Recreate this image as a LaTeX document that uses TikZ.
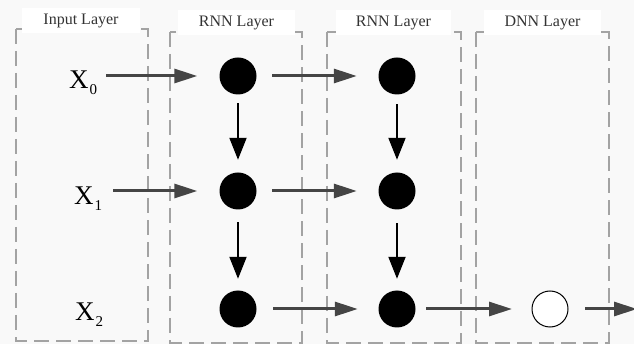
\documentclass[tikz,border=0pt]{standalone}
\usepackage{fontspec}
\setmainfont{Liberation Serif}
\usetikzlibrary{arrows.meta}
\definecolor{bgfill}{HTML}{F9F9F9}
\definecolor{dashgray}{HTML}{A3A3A3}
\definecolor{harrowgray}{HTML}{454545}
\definecolor{titlegray}{HTML}{333333}
% input symbol with a lowered index
\newcommand\inputsym[1]{X\kern1pt\raisebox{-6pt}{\fontsize{15}{15}\selectfont #1}}
\begin{document}
\begin{tikzpicture}[x=1pt,y=-1pt,
  layerbox/.style={draw=dashgray, line width=1.3pt, dash pattern=on 15pt off 7pt},
  titlebox/.style={fill=white, inner sep=0pt, minimum height=25pt,
    font=\fontsize{16}{18}\selectfont, text=titlegray},
  unit/.style={circle, fill=black, minimum size=37pt, inner sep=0pt},
  outunit/.style={circle, draw=black, fill=white, line width=1pt,
    minimum size=36pt, inner sep=0pt},
  xlabel/.style={anchor=base west, inner sep=0pt, font=\fontsize{27}{30}\selectfont},
  harrow/.style={draw=harrowgray, line width=3pt, -{Triangle[length=23pt,width=14pt]}},
  varrow/.style={draw=black, line width=2pt, -{Triangle[length=22pt,width=17pt]}},
]
\useasboundingbox (0,0) rectangle (634,344);
\fill[bgfill] (0,0) rectangle (634,344);

% layer frames
\draw[layerbox] (16,29) rectangle (148,341);
\draw[layerbox] (170,32) rectangle (302,343);
\draw[layerbox] (327,32) rectangle (461,343);
\draw[layerbox] (476,32) rectangle (609,343);

% layer titles
\node[titlebox, minimum width=118pt] (tin)   at (81,20.5)  {Input Layer};
\node[titlebox, minimum width=117pt] (trnn1) at (236.5,22.5) {RNN Layer};
\node[titlebox, minimum width=115pt] (trnn2) at (393.5,22.5) {RNN Layer};
\node[titlebox, minimum width=117pt] (tdnn)  at (542.5,22.5) {DNN Layer};

% inputs
\node[xlabel] (x0) at (69,89)  {\inputsym{0}};
\node[xlabel] (x1) at (74,205) {\inputsym{1}};
\node[xlabel] (x2) at (75,320) {\inputsym{2}};

% recurrent units
\node[unit] (a0) at (238,76)  {};
\node[unit] (a1) at (238,191) {};
\node[unit] (a2) at (238,309) {};
\node[unit] (b0) at (397,76)  {};
\node[unit] (b1) at (397,191) {};
\node[unit] (b2) at (397,309) {};

% dense output unit
\node[outunit] (d2) at (550,309) {};
\coordinate (out) at (637,309);

% input connections
\draw[harrow, shorten <=9pt, shorten >=22pt] (x0.east |- a0) -- (a0);
\draw[harrow, shorten <=11pt, shorten >=22pt] (x1.east |- a1) -- (a1);

% layer-to-layer connections
\draw[harrow, shorten <=15.5pt, shorten >=21.5pt] (a0) -- (b0);
\draw[harrow, shorten <=15.5pt, shorten >=21.5pt] (a1) -- (b1);
\draw[harrow, shorten <=16.5pt, shorten >=20.5pt] (a2) -- (b2);
\draw[harrow, shorten <=10.5pt, shorten >=19.5pt] (b2) -- (d2);
\draw[harrow, shorten <=16.5pt] (d2) -- (out);

% recurrent (time-step) connections
\draw[varrow, shorten <=8.5pt, shorten >=12.5pt] (a0) -- (a1);
\draw[varrow, shorten <=12.5pt, shorten >=11.5pt] (a1) -- (a2);
\draw[varrow, shorten <=9.5pt, shorten >=12.5pt] (b0) -- (b1);
\draw[varrow, shorten <=13.5pt, shorten >=11.5pt] (b1) -- (b2);
\end{tikzpicture}
\end{document}
